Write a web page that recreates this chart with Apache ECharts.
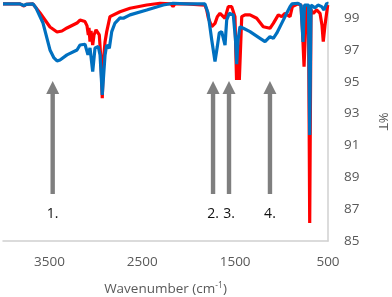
<!DOCTYPE html>
<html>
<head>
<meta charset="utf-8">
<script src="https://cdn.jsdelivr.net/npm/echarts@6/dist/echarts.min.js"></script>
<style>
html,body{margin:0;padding:0;background:#fff;}
#chart{width:392px;height:297px;}
</style>
</head>
<body>
<div id="chart"></div>
<script>
// ---- data ----
const redWavenumber = [4000,3817,3774,3752,3677,3601,3494,3418,3365,3311,3203,3171,3117,3095,3081,3074,3063,3052,3034,3020,2998,2963,2945,2931,2918,2901,2883,2848,2740,2632,2452,2309,2191,2169,2148,2022,1825,1806,1789,1752,1717,1692,1663,1609,1574,1537,1502,1485,1469,1455,1429,1394,1340,1268,1197,1125,1089,1035,999,963,909,884,823,791,775,758,742,726,710,697,683,658,622,586,565,551,532,503,500];
const redT = [99.88,99.88,99.75,99.85,99.88,99.31,98.43,98.12,98.18,98.37,98.68,98.87,98.77,98.50,97.93,98.37,97.51,98.18,97.30,97.93,98.25,97.93,96.36,93.96,96.36,97.51,98.14,99.08,99.39,99.61,99.81,99.92,99.88,99.71,99.88,99.88,99.80,99.50,99.00,98.45,98.66,99.08,99.29,98.98,99.71,99.71,99.08,95.11,96.99,95.11,99.08,99.19,99.19,98.98,98.45,98.35,98.66,99.19,99.08,99.29,99.08,99.71,99.88,99.81,98.25,95.94,98.25,99.81,99.50,86.13,99.50,99.29,99.50,99.29,98.56,97.51,98.56,99.81,99.85];

const blueWavenumber = [4000,3817,3774,3752,3677,3645,3569,3494,3451,3418,3386,3311,3203,3171,3117,3085,3063,3034,3009,2974,2955,2931,2901,2883,2855,2829,2794,2740,2704,2632,2452,2274,2169,2022,1825,1792,1752,1717,1692,1671,1645,1609,1591,1563,1520,1496,1483,1469,1448,1412,1340,1232,1178,1125,1089,1052,999,945,909,888,823,791,769,753,737,710,697,683,640,608,568,543,514,500];
const blueT = [99.88,99.88,99.78,99.85,99.88,99.63,98.68,96.99,96.49,96.30,96.36,96.68,96.99,97.30,97.35,96.68,97.12,95.63,97.12,97.20,96.68,94.17,96.68,97.30,97.10,98.14,98.68,99.00,98.98,99.19,99.50,99.81,99.92,99.88,99.88,99.31,97.62,96.26,97.20,98.06,98.14,97.30,98.87,99.29,99.19,97.62,96.10,97.62,98.45,98.35,98.14,97.72,97.51,97.83,97.72,98.04,98.66,99.29,99.71,99.88,99.92,99.81,97.49,99.81,99.92,99.81,91.65,99.81,99.63,99.81,99.71,99.50,99.92,99.88];

const xTickValues = [500,1500,2500,3500];
const yTickValues = [85,87,89,91,93,95,97,99];

const arrowWavenumbers = [3465,1738,1566,1125];
const arrowLabels = ['1.','2.','3.','4.'];

// ---- build ----
const zip = (a,b) => a.map((v,i)=>[v,b[i]]);
const ARROW_TOP = 95.04, ARROW_BOTTOM = 87.95, LABEL_T = 86.7;

const chart = echarts.init(document.getElementById('chart'), null, {renderer:'canvas'});
const FONT = "'Open Sans', 'DejaVu Sans', sans-serif";

chart.setOption({
  animation:false,
  backgroundColor:'#ffffff',
  grid:{left:3, right:64, top:2, bottom:56, containLabel:false, outerBoundsMode:'none'},
  xAxis:{
    type:'value', inverse:true, min:500, max:4000, interval:1000,
    axisLine:{show:true, lineStyle:{color:'#d0d0d0', width:1.5}},
    axisTick:{show:false},
    splitLine:{show:false},
    axisLabel:{color:'#595959', fontFamily:FONT, fontSize:13.5, margin:14, showMaxLabel:false,
      formatter:v => xTickValues.includes(v) ? String(v) : ''},
    name:'{a|Wavenumber (cm}{s|-1}{a|)}',
    nameLocation:'middle', nameGap:40,
    nameTextStyle:{
      rich:{
        a:{color:'#595959', fontFamily:FONT, fontSize:13.5},
        s:{color:'#595959', fontFamily:FONT, fontSize:8.5, padding:[0,0,7,0]}
      }
    }
  },
  yAxis:{
    type:'value', position:'right', min:85, max:100, interval:2,
    axisLine:{show:true, lineStyle:{color:'#d0d0d0', width:1.5}},
    axisTick:{show:false},
    splitLine:{show:false},
    axisLabel:{color:'#595959', fontFamily:FONT, fontSize:13.5, margin:16, showMaxLabel:false,
      formatter:v => yTickValues.includes(v) ? String(v) : ''},
    name:'%T', nameLocation:'middle', nameRotate:-90, nameGap:48,
    nameTextStyle:{color:'#595959', fontFamily:FONT, fontSize:13}
  },
  series:[
    {
      type:'line', data:zip(redWavenumber, redT), showSymbol:false, symbol:'none',
      lineStyle:{color:'#ff0000', width:3.2}, clip:false, z:2
    },
    {
      type:'line', data:zip(blueWavenumber, blueT), showSymbol:false, symbol:'none',
      lineStyle:{color:'#0070c0', width:3.2}, clip:false, z:3
    },
    {
      type:'custom', z:4, clip:false,
      data:arrowWavenumbers.map((w,i)=>[w, i]),
      renderItem:function(params, api){
        const w = api.value(0);
        const idx = api.value(1);
        const top = api.coord([w, ARROW_TOP]);
        const bot = api.coord([w, ARROW_BOTTOM]);
        const lab = api.coord([w, LABEL_T]);
        const headH = 13, headW = 13, shaftW = 4.4;
        const x = top[0];
        return {
          type:'group',
          children:[
            {type:'rect', shape:{x:x-shaftW/2, y:top[1]+headH-1, width:shaftW, height:bot[1]-top[1]-headH+1},
             style:{fill:'#7f7f7f'}},
            {type:'polygon', shape:{points:[[x,top[1]],[x-headW/2,top[1]+headH],[x+headW/2,top[1]+headH]]},
             style:{fill:'#7f7f7f'}},
            {type:'text', x:x, y:lab[1],
             style:{text:arrowLabels[idx], fill:'#111111', font:"14px 'Open Sans', sans-serif",
                    align:'center', verticalAlign:'middle'}}
          ]
        };
      }
    }
  ]
});
</script>
</body>
</html>
